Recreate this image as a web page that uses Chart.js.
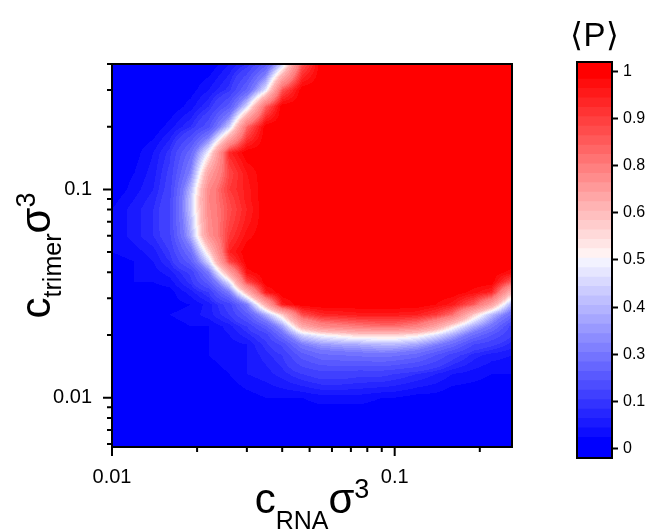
<!DOCTYPE html>
<html>
<head>
<meta charset="utf-8">
<script src="https://cdn.jsdelivr.net/npm/chart.js@4.4.1/dist/chart.umd.min.js"></script>
<style>
  html, body { margin: 0; padding: 0; background: #fff; }
  #wrap { position: relative; width: 650px; height: 529px; overflow: hidden; }
  #mainBox { position: absolute; left: 0; top: 0; }
  #barBox { position: absolute; left: 560px; top: 0; }
</style>
</head>
<body>
<div id="wrap">
  <div id="mainBox"><canvas id="heatChart" width="650" height="529"></canvas></div>
  <div id="barBox"><canvas id="colorBar" width="90" height="529"></canvas></div>
</div>
<script>
// ====================== Data ======================
// columns: c_RNA sigma^3
const xValues = [0.01, 0.012, 0.014, 0.016, 0.019, 0.022, 0.026, 0.03, 0.035, 0.04, 0.047,
                 0.055, 0.065, 0.075, 0.09, 0.1, 0.12, 0.14, 0.16, 0.19, 0.22, 0.26];
// rows: c_trimer sigma^3, top of the plot first
const yValues = [0.4, 0.3, 0.25, 0.2, 0.15, 0.12, 0.1, 0.09, 0.08, 0.07, 0.06, 0.05, 0.045,
                 0.04, 0.036, 0.032, 0.028, 0.025, 0.022, 0.02, 0.018, 0.016, 0.013, 0.01, 0.008, 0.0058];
// <P> per row (same order as yValues), one value per xValues entry
const pRows = [
  [0,0,0,0,0,0,0.04,0.08,0.2,0.43,0.86,1,1,1,1,1,1,1,1,1,1,1],
  [0,0,0,0,0.01,0.04,0.09,0.23,0.47,0.86,1,1,1,1,1,1,1,1,1,1,1,1],
  [0,0,0,0,0.03,0.08,0.2,0.45,0.84,1,1,1,1,1,1,1,1,1,1,1,1,1],
  [0,0,0,0.03,0.08,0.17,0.43,0.83,1,1,1,1,1,1,1,1,1,1,1,1,1,1],
  [0,0.01,0.04,0.09,0.25,0.5,0.93,1,1,1,1,1,1,1,1,1,1,1,1,1,1,1],
  [0,0.02,0.05,0.11,0.32,0.67,0.88,0.96,1,1,1,1,1,1,1,1,1,1,1,1,1,1],
  [0,0.03,0.06,0.12,0.4,0.75,0.9,0.95,1,1,1,1,1,1,1,1,1,1,1,1,1,1],
  [0.01,0.04,0.07,0.13,0.42,0.76,0.88,0.95,1,1,1,1,1,1,1,1,1,1,1,1,1,1],
  [0.02,0.05,0.08,0.14,0.42,0.75,0.87,0.94,1,1,1,1,1,1,1,1,1,1,1,1,1,1],
  [0.02,0.05,0.08,0.14,0.4,0.74,0.88,0.95,1,1,1,1,1,1,1,1,1,1,1,1,1,1],
  [0.02,0.05,0.08,0.13,0.38,0.72,0.9,0.97,1,1,1,1,1,1,1,1,1,1,1,1,1,1],
  [0.02,0.03,0.05,0.1,0.27,0.55,0.94,1,1,1,1,1,1,1,1,1,1,1,1,1,1,1],
  [0.01,0.02,0.04,0.08,0.21,0.45,0.88,1,1,1,1,1,1,1,1,1,1,1,1,1,1,1],
  [0.01,0.02,0.03,0.05,0.11,0.3,0.67,0.97,1,1,1,1,1,1,1,1,1,1,1,1,1,0.97],
  [0.01,0.02,0.02,0.03,0.09,0.21,0.47,0.88,1,1,1,1,1,1,1,1,1,1,1,1,1,0.85],
  [0,0.01,0.01,0.01,0.05,0.1,0.3,0.61,0.95,1,1,1,1,1,1,1,1,1,1,0.97,0.93,0.6],
  [0,0,0.01,0.01,0.02,0.05,0.12,0.3,0.64,0.95,1,1,1,1,1,1,1,0.98,0.95,0.85,0.67,0.37],
  [0.01,0.01,0.01,0.02,0.03,0.05,0.1,0.2,0.38,0.56,0.87,0.93,0.94,0.95,0.95,0.95,0.94,0.9,0.82,0.57,0.4,0.25],
  [0.01,0.01,0.01,0.01,0.02,0.02,0.05,0.1,0.21,0.36,0.64,0.75,0.78,0.8,0.82,0.82,0.78,0.67,0.53,0.38,0.28,0.12],
  [0,0,0.01,0.01,0.01,0.02,0.04,0.07,0.12,0.26,0.44,0.5,0.53,0.56,0.56,0.56,0.53,0.46,0.38,0.26,0.18,0.1],
  [0,0,0.01,0.01,0.01,0.02,0.03,0.04,0.09,0.15,0.3,0.35,0.37,0.38,0.4,0.4,0.37,0.31,0.25,0.14,0.11,0.07],
  [0,0,0,0.01,0.01,0.02,0.03,0.04,0.07,0.1,0.2,0.25,0.26,0.27,0.28,0.27,0.24,0.18,0.12,0.07,0.05,0.04],
  [0,0,0,0,0.01,0.01,0.02,0.04,0.05,0.07,0.1,0.12,0.12,0.11,0.11,0.1,0.08,0.06,0.04,0.03,0.02,0.02],
  [0,0,0,0,0,0,0,0.01,0.02,0.02,0.02,0.03,0.03,0.03,0.02,0.02,0.01,0.01,0,0,0,0],
  [0,0,0,0,0,0,0,0,0,0,0,0,0,0,0,0,0,0,0,0,0,0],
  [0,0,0,0,0,0,0,0,0,0,0,0,0,0,0,0,0,0,0,0,0,0]
];

// axis ranges and ticks
const xRange = [0.01, 0.26];
const yRange = [0.0058, 0.4];
const majorTicks = [0.01, 0.1];
const majorTickLabels = ['0.01', '0.1'];
const xMinorTicks = [0.02, 0.03, 0.04, 0.05, 0.06, 0.07, 0.08, 0.09, 0.2];
const yMinorTicks = [0.006, 0.007, 0.008, 0.009, 0.02, 0.03, 0.04, 0.05, 0.06, 0.07, 0.08, 0.09, 0.2, 0.3, 0.4];

// colour bar levels (evenly spaced on the bar)
const barLevels = [0, 0.1, 0.3, 0.4, 0.5, 0.6, 0.8, 0.9, 1];
const barLabels = ['0', '0.1', '0.3', '0.4', '0.5', '0.6', '0.8', '0.9', '1'];

const fontFamily = '"Liberation Sans", Arial, Helvetica, sans-serif';

// ====================== Colours ======================
function levelPos(v) {
  const n = barLevels.length - 1;
  if (v <= barLevels[0]) return 0;
  if (v >= barLevels[n]) return n;
  for (let i = 0; i < n; i++) {
    if (v <= barLevels[i + 1]) return i + (v - barLevels[i]) / (barLevels[i + 1] - barLevels[i]);
  }
  return n;
}

// blue -> white -> red, t in 0..1
function mapColor(t) {
  if (t < 0.5) { const c = Math.round(510 * t); return [c, c, 255]; }
  const c = Math.round(510 * (1 - t)); return [255, c, c];
}

// contour bands: 5 per level interval
function bandColor(p) {
  const n = barLevels.length - 1, bands = n * 5, step = n / bands;
  let b = Math.floor(p / step);
  if (b < 0) b = 0;
  if (b > bands - 1) b = bands - 1;
  const t = b < bands / 2 ? b * step / n : (b + 1) * step / n;
  return mapColor(t);
}

// ====================== Heatmap ======================
const yAsc = yValues.slice().reverse();
const pAsc = pRows.slice().reverse();

function locate(arr, v) {
  const n = arr.length;
  if (v <= arr[0]) return [0, 0];
  if (v >= arr[n - 1]) return [n - 2, 1];
  let i = 0;
  while (v > arr[i + 1]) i++;
  return [i, (v - arr[i]) / (arr[i + 1] - arr[i])];
}

const heatmapPlugin = {
  id: 'heatmap',
  beforeDatasetsDraw(chart) {
    const { ctx, chartArea: a, scales: { x, y } } = chart;
    const w = Math.round(a.right - a.left), h = Math.round(a.bottom - a.top);
    const off = document.createElement('canvas');
    off.width = w; off.height = h;
    const octx = off.getContext('2d');
    const img = octx.createImageData(w, h);
    const lx = xValues.map(Math.log10), ly = yAsc.map(Math.log10);

    const cols = [];
    for (let i = 0; i < w; i++) cols.push(locate(lx, Math.log10(x.getValueForPixel(a.left + i + 0.5))));

    for (let j = 0; j < h; j++) {
      const [iy, fy] = locate(ly, Math.log10(y.getValueForPixel(a.top + j + 0.5)));
      const r0 = pAsc[iy], r1 = pAsc[iy + 1];
      for (let i = 0; i < w; i++) {
        const [ix, fx] = cols[i];
        const v0 = r0[ix] * (1 - fx) + r0[ix + 1] * fx;
        const v1 = r1[ix] * (1 - fx) + r1[ix + 1] * fx;
        const v = v0 * (1 - fy) + v1 * fy;
        const c = bandColor(levelPos(v));
        const k = (j * w + i) * 4;
        img.data[k] = c[0]; img.data[k + 1] = c[1]; img.data[k + 2] = c[2]; img.data[k + 3] = 255;
      }
    }
    octx.putImageData(img, 0, 0);
    ctx.drawImage(off, a.left, a.top);
  }
};

// ====================== Frame, ticks, titles ======================
function drawParts(ctx, parts, cx, baseY) {
  let total = 0;
  parts.forEach(p => {
    ctx.font = p.size + 'px ' + fontFamily;
    p.w = ctx.measureText(p.text).width;
    total += p.w;
  });
  let px = cx - total / 2;
  parts.forEach(p => {
    ctx.font = p.size + 'px ' + fontFamily;
    ctx.fillText(p.text, px, baseY + p.shift);
    px += p.w;
  });
}

const framePlugin = {
  id: 'frame',
  afterDraw(chart) {
    const { ctx, chartArea: a, scales: { x, y } } = chart;
    ctx.save();
    ctx.strokeStyle = '#000';
    ctx.lineWidth = 2;
    ctx.strokeRect(a.left, a.top, a.right - a.left, a.bottom - a.top);

    ctx.beginPath();
    majorTicks.forEach(v => {
      const px = x.getPixelForValue(v);
      ctx.moveTo(px, a.bottom); ctx.lineTo(px, a.bottom + 9);
      const py = y.getPixelForValue(v);
      ctx.moveTo(a.left, py); ctx.lineTo(a.left - 9, py);
    });
    xMinorTicks.forEach(v => {
      const px = x.getPixelForValue(v);
      ctx.moveTo(px, a.bottom); ctx.lineTo(px, a.bottom + 5);
    });
    yMinorTicks.forEach(v => {
      const py = y.getPixelForValue(v);
      ctx.moveTo(a.left, py); ctx.lineTo(a.left - 5, py);
    });
    ctx.stroke();

    // axis titles
    ctx.fillStyle = '#000';
    ctx.textAlign = 'left';
    ctx.textBaseline = 'alphabetic';
    drawParts(ctx, [
      { text: 'c', size: 42, shift: 0 },
      { text: 'RNA', size: 25, shift: 16 },
      { text: '\u03c3', size: 42, shift: 0 },
      { text: '3', size: 27, shift: -15 }
    ], (a.left + a.right) / 2, 513);

    ctx.translate(50, (a.top + a.bottom) / 2);
    ctx.rotate(-Math.PI / 2);
    drawParts(ctx, [
      { text: 'c', size: 42, shift: 0 },
      { text: 'trimer', size: 25, shift: 11 },
      { text: '\u03c3', size: 42, shift: 0 },
      { text: '3', size: 27, shift: -15 }
    ], 0, 0);
    ctx.restore();
  }
};

const tickFont = { family: fontFamily, size: 20 };

new Chart(document.getElementById('heatChart'), {
  type: 'scatter',
  data: { datasets: [] },
  options: {
    responsive: false,
    animation: false,
    layout: { padding: { left: 0, top: 64, right: 138, bottom: 0 } },
    plugins: { legend: { display: false }, tooltip: { enabled: false } },
    scales: {
      x: {
        type: 'logarithmic', min: xRange[0], max: xRange[1],
        grid: { display: false, drawTicks: false }, border: { display: false },
        afterBuildTicks: s => { s.ticks = majorTicks.map(v => ({ value: v })); },
        afterFit: s => { s.height = 82; },
        ticks: {
          autoSkip: false, maxRotation: 0, color: '#000', font: tickFont, padding: 18,
          callback: v => majorTickLabels[majorTicks.indexOf(v)]
        }
      },
      y: {
        type: 'logarithmic', min: yRange[0], max: yRange[1],
        grid: { display: false, drawTicks: false }, border: { display: false },
        afterBuildTicks: s => { s.ticks = majorTicks.map(v => ({ value: v })); },
        afterFit: s => { s.width = 112; },
        ticks: {
          autoSkip: false, color: '#000', font: tickFont, padding: 20,
          callback: v => majorTickLabels[majorTicks.indexOf(v)]
        }
      }
    }
  },
  plugins: [heatmapPlugin, framePlugin]
});

// ====================== Colour bar ======================
const nLev = barLevels.length - 1;
const barMin = -0.2, barMax = nLev + 0.2;
// band edges: pure blue / pure red end bands, 5 bands per level in between
const bandEdges = [barMin];
for (let k = 1; k < nLev * 5; k++) bandEdges.push(k * 0.2);
bandEdges.push(barMax);

const barSets = [];
for (let k = 0; k < bandEdges.length - 1; k++) {
  const mid = (bandEdges[k] + bandEdges[k + 1]) / 2;
  const c = bandColor(Math.min(Math.max(mid, 0), nLev - 0.001));
  const last = k === bandEdges.length - 2;
  barSets.push({
    // small overlap with the next band hides anti-aliasing seams
    data: [[bandEdges[k], last ? bandEdges[k + 1] : bandEdges[k + 1] + 0.04]],
    backgroundColor: `rgb(${c[0]},${c[1]},${c[2]})`,
    borderWidth: 0,
    barPercentage: 1,
    categoryPercentage: 1
  });
}

const barFramePlugin = {
  id: 'barFrame',
  afterDraw(chart) {
    const { ctx, chartArea: a, scales: { y } } = chart;
    const top = y.getPixelForValue(barMax), bottom = y.getPixelForValue(barMin);
    ctx.save();
    ctx.strokeStyle = '#000';
    ctx.lineWidth = 2;
    ctx.strokeRect(a.left, top, a.right - a.left, bottom - top);
    ctx.fillStyle = '#000';
    ctx.textAlign = 'center';
    ctx.textBaseline = 'alphabetic';
    ctx.font = '33px ' + fontFamily;
    ctx.fillText('\u27e8P\u27e9', (a.left + a.right) / 2, 46);
    ctx.restore();
  }
};

new Chart(document.getElementById('colorBar'), {
  type: 'bar',
  data: { labels: [''], datasets: barSets },
  options: {
    responsive: false,
    animation: false,
    layout: { padding: { left: 17, top: 62, right: 0, bottom: 71 } },
    plugins: { legend: { display: false }, tooltip: { enabled: false } },
    scales: {
      x: { display: false, stacked: true },
      y: {
        position: 'right', min: barMin, max: barMax, stacked: false,
        grid: { drawOnChartArea: false, drawTicks: true, tickLength: 6, tickWidth: 2, tickColor: '#000' },
        border: { display: true, color: '#000', width: 2 },
        afterBuildTicks: s => { s.ticks = barLevels.map((v, i) => ({ value: i })); },
        afterFit: s => { s.width = 38; },
        ticks: {
          autoSkip: false, color: '#000', padding: 5,
          font: { family: fontFamily, size: 16 },
          callback: v => barLabels[v]
        }
      }
    }
  },
  plugins: [barFramePlugin]
});
</script>
</body>
</html>
